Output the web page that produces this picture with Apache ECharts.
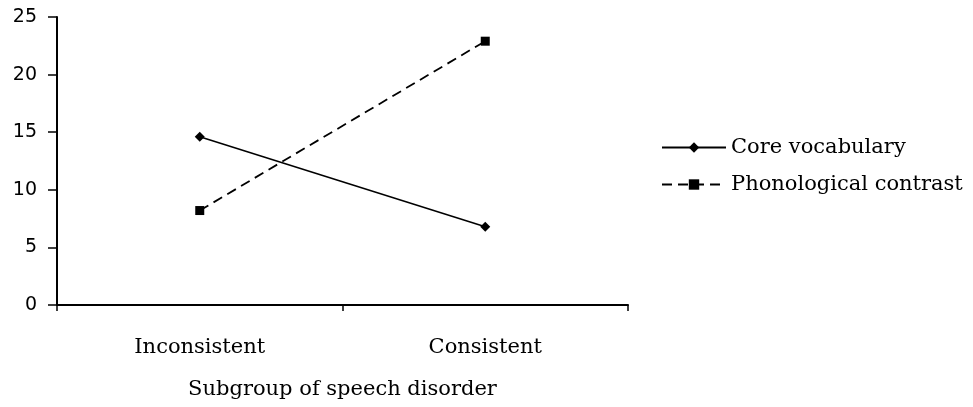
<!DOCTYPE html>
<html>
<head>
<meta charset="utf-8">
<script src="https://cdn.jsdelivr.net/npm/echarts@6/dist/echarts.min.js"></script>
<style>
  html, body { margin: 0; padding: 0; background: #fff; }
  #chart { width: 973px; height: 407px; }
</style>
</head>
<body>
<div id="chart"></div>
<script>
const categories = ['Inconsistent', 'Consistent'];
const coreVocabulary = [14.6, 6.8];
const phonologicalContrast = [8.2, 22.9];
const yTicks = [0, 5, 10, 15, 20, 25];

const serif = '"DejaVu Serif", "Liberation Serif", serif';
const sans = '"DejaVu Sans", Verdana, sans-serif';

let myChart = echarts.init(document.getElementById('chart'));
let option = {
  animation: false,
  grid: { left: 57, top: 17, right: 345, bottom: 102 },
  legend: {
    orient: 'vertical',
    left: 656,
    top: 132,
    itemWidth: 64,
    itemHeight: 13,
    itemGap: 16,
    textStyle: { fontFamily: serif, fontSize: 21, color: '#000' },
    data: ['Core vocabulary', 'Phonological contrast']
  },
  xAxis: {
    type: 'category',
    data: categories,
    boundaryGap: true,
    name: 'Subgroup of speech disorder',
    nameLocation: 'middle',
    nameGap: 74,
    nameTextStyle: { fontFamily: serif, fontSize: 21, color: '#000' },
    axisLine: { lineStyle: { color: '#000', width: 2 } },
    axisTick: { show: true, length: 6, lineStyle: { color: '#000', width: 1.5 } },
    axisLabel: { fontFamily: serif, fontSize: 21, color: '#000', margin: 32 }
  },
  yAxis: {
    type: 'value',
    min: 0,
    max: 25,
    interval: 5,
    splitLine: { show: false },
    axisLine: { show: true, lineStyle: { color: '#000', width: 2 } },
    axisTick: { show: true, length: 9, lineStyle: { color: '#000', width: 1.5 } },
    axisLabel: {
      fontFamily: sans, fontSize: 19, color: '#000', margin: 20,
      formatter: v => yTicks.includes(v) ? String(v) : ''
    }
  },
  series: [
    {
      name: 'Core vocabulary',
      type: 'line',
      data: coreVocabulary,
      symbol: 'diamond',
      symbolSize: 10,
      itemStyle: { color: '#000' },
      lineStyle: { color: '#000', width: 1.5, type: 'solid' }
    },
    {
      name: 'Phonological contrast',
      type: 'line',
      data: phonologicalContrast,
      symbol: 'rect',
      symbolSize: 9,
      itemStyle: { color: '#000' },
      lineStyle: { color: '#000', width: 1.8, type: [10, 6] }
    }
  ]
};
myChart.setOption(option, true);
</script>
</body>
</html>
